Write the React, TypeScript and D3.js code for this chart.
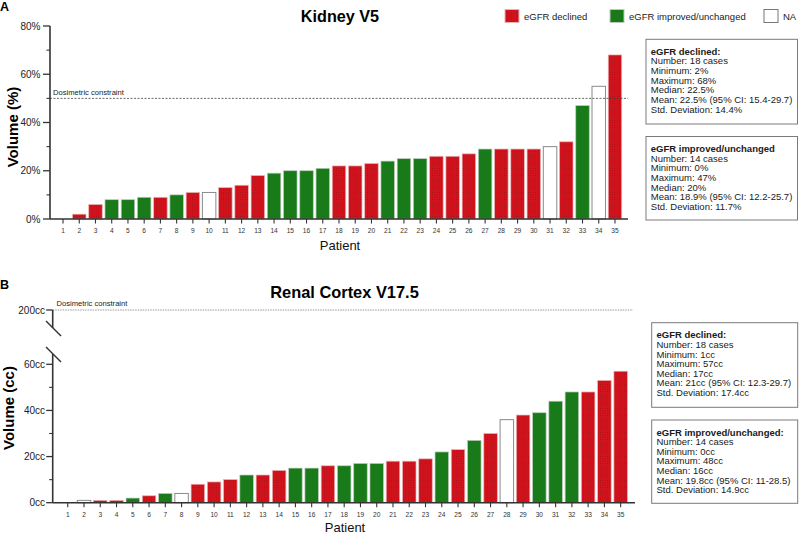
import React from "react";
import * as d3 from "d3";

const patientLabels = ["1","2","3","4","5","6","7","8","9","10","11","12","13","14","15","16","17","18","19","20","21","22","23","24","25","26","27","28","29","30","31","32","33","34","35"];

// Kidney V5 (%)
const kidneyV5 = [0,2,6,8,8,9,9,10,11,11,13,14,18,19,20,20,21,22,22,23,24,25,25,26,26,27,29,29,29,29,30,32,47,55,68];
const kidneyGroup = ["I","D","D","I","I","I","D","I","D","N","D","D","D","I","I","I","I","D","D","D","I","I","I","D","D","D","I","D","D","D","N","D","I","N","D"];

// Renal Cortex V17.5 (cc)
const cortexV175 = [0,1,1,1,2,3,4,4,8,9,10,12,12,14,15,15,16,16,17,17,18,18,19,22,23,27,30,36,38,39,44,48,48,53,57];
const cortexGroup = ["I","N","D","D","I","D","I","N","D","D","D","I","D","D","I","I","D","I","I","I","D","D","D","I","D","I","D","N","D","I","I","I","D","D","D"];

const kidneyTicks = [0,20,40,60,80];
const kidneyMinor = [10,30,50,70];
const cortexTicks = [0,20,40,60,200];
const cortexMinor = [10,30,50];

const legendItems = [
  { key: "D", label: "eGFR declined" },
  { key: "I", label: "eGFR improved/unchanged" },
  { key: "N", label: "NA" },
];

const statsA1 = ["eGFR declined:","Number: 18 cases","Minimum: 2%","Maximum: 68%","Median: 22.5%","Mean: 22.5% (95% CI: 15.4-29.7)","Std. Deviation: 14.4%"];
const statsA2 = ["eGFR improved/unchanged","Number: 14 cases","Minimum: 0%","Maximum: 47%","Median: 20%","Mean: 18.9% (95% CI: 12.2-25.7)","Std. Deviation: 11.7%"];
const statsB1 = ["eGFR declined:","Number: 18 cases","Minimum: 1cc","Maximum: 57cc","Median: 17cc","Mean: 21cc (95% CI: 12.3-29.7)","Std. Deviation: 17.4cc"];
const statsB2 = ["eGFR improved/unchanged:","Number: 14 cases","Minimum: 0cc","Maximum: 48cc","Median: 16cc","Mean: 19.8cc (95% CI: 11-28.5)","Std. Deviation: 14.9cc"];

const FONT = "'Liberation Sans', Arial, Helvetica, sans-serif";
const RED = "#d6141e";
const GREEN = "#187a18";
const AXIS = "#333";

function fillFor(g: string) {
  if (g === "D") return "url(#redDots)";
  if (g === "I") return GREEN;
  return "#ffffff";
}
function strokeFor(g: string) {
  if (g === "N") return "#8a8a8a";
  if (g === "D") return "#e9b3b3";
  return "#b9cbb9";
}

function StatsBox({ x, y, w, h, lines }: { x: number; y: number; w: number; h: number; lines: string[] }) {
  return (
    <g>
      <rect x={x} y={y} width={w} height={h} fill="#fff" stroke="#7a7a7a" strokeWidth={1} />
      {lines.map((t, i) => (
        <text key={i} x={x + 4.8} y={y + 15.5 + i * 9.65} fontSize={9.5} fontFamily={FONT}
          fontWeight={i === 0 ? "bold" : "normal"} fill="#1a1a1a">{t}</text>
      ))}
    </g>
  );
}

function Bars({ values, groups, x, y }: { values: number[]; groups: string[]; x: d3.ScaleBand<string>; y: (v: number) => number }) {
  return (
    <g>
      {values.map((v, i) => {
        const g = groups[i];
        const top = y(v);
        const base = y(0);
        const h = base - top;
        if (h <= 0) return null;
        return (
          <rect key={i} x={x(patientLabels[i])!} y={top} width={x.bandwidth()} height={h}
            fill={fillFor(g)} stroke={strokeFor(g)} strokeWidth={g === "N" ? 1 : 0.7} />
        );
      })}
    </g>
  );
}

function XAxis({ x, y0, x0, x1, labelY }: { x: d3.ScaleBand<string>; y0: number; x0: number; x1: number; labelY: number }) {
  return (
    <g>
      {patientLabels.map((p) => {
        const cx = x(p)! + x.bandwidth() / 2;
        return (
          <g key={p}>
            <line x1={cx} x2={cx} y1={y0} y2={y0 + 4.5} stroke={AXIS} strokeWidth={1.1} />
            <text x={cx} y={labelY} fontSize={6.6} textAnchor="middle" fontFamily={FONT} fill="#333">{p}</text>
          </g>
        );
      })}
      <line x1={x0} x2={x1} y1={y0} y2={y0} stroke={AXIS} strokeWidth={1.6} />
    </g>
  );
}

export default function App() {
  // Panel A
  const xA = d3.scaleBand<string>().domain(patientLabels).range([54.9, 623.1]).paddingInner(0.17).paddingOuter(0.085);
  const yA = d3.scaleLinear().domain([0, 80]).range([219, 26]);
  const axAx = 50;

  // Panel B
  const xB = d3.scaleBand<string>().domain(patientLabels).range([59.6, 628.8]).paddingInner(0.17).paddingOuter(0.085);
  const yB = d3.scaleLinear().domain([0, 60, 200]).range([502.7, 364.3, 310]);
  const axBx = 52.7;

  return (
    <svg width={800} height={533} style={{ position: "absolute", left: 0, top: 0, background: "#fff" }}>
      <defs>
        <pattern id="redDots" width={2.4} height={2.4} patternUnits="userSpaceOnUse">
          <rect width={2.4} height={2.4} fill={RED} />
          <rect x={0} y={0} width={0.8} height={0.8} fill="#a00d14" />
          <rect x={1.2} y={1.2} width={0.8} height={0.8} fill="#b30f17" />
        </pattern>
      </defs>
      <rect x={0} y={0} width={800} height={533} fill="#fff" />

      {/* ---------- Panel A ---------- */}
      <text x={0} y={10.5} fontSize={12.5} fontWeight="bold" fontFamily={FONT}>A</text>
      <text x={340} y={21.7} fontSize={16.2} fontWeight="bold" textAnchor="middle" fontFamily={FONT}>Kidney V5</text>

      {legendItems.map((l, i) => {
        const lx = [505, 610, 764][i];
        return (
          <g key={l.key}>
            <rect x={lx} y={9.5} width={14} height={13} fill={fillFor(l.key)} stroke={l.key === "N" ? "#777" : strokeFor(l.key)} strokeWidth={1} />
            <text x={lx + 19} y={19.5} fontSize={9.5} fontFamily={FONT} fill="#222">{l.label}</text>
          </g>
        );
      })}

      <Bars values={kidneyV5} groups={kidneyGroup} x={xA} y={yA} />

      {/* dosimetric constraint */}
      <line x1={axAx} x2={628} y1={yA(50)} y2={yA(50)} stroke="#444" strokeWidth={0.8} strokeDasharray="2,1.5" />
      <text x={53} y={yA(50) - 3} fontSize={7.6} fontFamily={FONT} fill="#222">Dosimetric constraint</text>

      {/* y axis A */}
      <line x1={axAx} x2={axAx} y1={yA(80)} y2={yA(0)} stroke={AXIS} strokeWidth={1.6} />
      {kidneyTicks.map((t) => (
        <g key={t}>
          <line x1={axAx - 7} x2={axAx} y1={yA(t)} y2={yA(t)} stroke={AXIS} strokeWidth={1.3} />
          <text x={40.5} y={yA(t) + 3.6} fontSize={10} textAnchor="end" fontFamily={FONT} fill="#222">{t}%</text>
        </g>
      ))}
      {kidneyMinor.map((t) => (
        <line key={t} x1={axAx - 3.5} x2={axAx} y1={yA(t)} y2={yA(t)} stroke={AXIS} strokeWidth={1.1} />
      ))}
      <XAxis x={xA} y0={yA(0)} x0={axAx} x1={628} labelY={232.5} />
      <text x={340} y={249.5} fontSize={13} textAnchor="middle" fontFamily={FONT} fill="#111">Patient</text>
      <text transform={`translate(17.5,${127}) rotate(-90)`} fontSize={15} fontWeight="bold" textAnchor="middle" fontFamily={FONT}>Volume (%)</text>

      <StatsBox x={646} y={39.3} w={151.5} h={84.7} lines={statsA1} />
      <StatsBox x={646} y={136.5} w={151.5} h={83.5} lines={statsA2} />

      {/* ---------- Panel B ---------- */}
      <text x={0} y={288.5} fontSize={12.5} fontWeight="bold" fontFamily={FONT}>B</text>
      <text x={344.5} y={298.3} fontSize={16.4} fontWeight="bold" textAnchor="middle" fontFamily={FONT}>Renal Cortex V17.5</text>

      <Bars values={cortexV175} groups={cortexGroup} x={xB} y={yB} />

      <line x1={axBx} x2={633} y1={yB(200)} y2={yB(200)} stroke="#999" strokeWidth={1} strokeDasharray="1.5,1" />
      <text x={56.5} y={yB(200) - 4} fontSize={7.6} fontFamily={FONT} fill="#222">Dosimetric constraint</text>

      {/* y axis B with break */}
      <line x1={axBx} x2={axBx} y1={yB(200)} y2={328} stroke={AXIS} strokeWidth={1.6} />
      <line x1={axBx} x2={axBx} y1={354} y2={yB(0)} stroke={AXIS} strokeWidth={1.6} />
      <line x1={46} x2={61} y1={321} y2={336} stroke={AXIS} strokeWidth={1.4} />
      <line x1={46} x2={61} y1={347} y2={362} stroke={AXIS} strokeWidth={1.4} />
      {cortexTicks.map((t) => (
        <g key={t}>
          <line x1={axBx - 6.5} x2={axBx} y1={yB(t)} y2={yB(t)} stroke={AXIS} strokeWidth={1.3} />
          <text x={45} y={yB(t) + 3.6} fontSize={10} textAnchor="end" fontFamily={FONT} fill="#222">{t}cc</text>
        </g>
      ))}
      {cortexMinor.map((t) => (
        <line key={t} x1={axBx - 3.5} x2={axBx} y1={yB(t)} y2={yB(t)} stroke={AXIS} strokeWidth={1.1} />
      ))}
      <XAxis x={xB} y0={yB(0)} x0={axBx} x1={635} labelY={516.5} />
      <text x={345} y={531.5} fontSize={13} textAnchor="middle" fontFamily={FONT} fill="#111">Patient</text>
      <text transform={`translate(14,${408}) rotate(-90)`} fontSize={15} fontWeight="bold" textAnchor="middle" fontFamily={FONT}>Volume (cc)</text>

      <StatsBox x={651.7} y={322.7} w={146} h={84.6} lines={statsB1} />
      <StatsBox x={651.7} y={420} w={146} h={83.3} lines={statsB2} />
    </svg>
  );
}
